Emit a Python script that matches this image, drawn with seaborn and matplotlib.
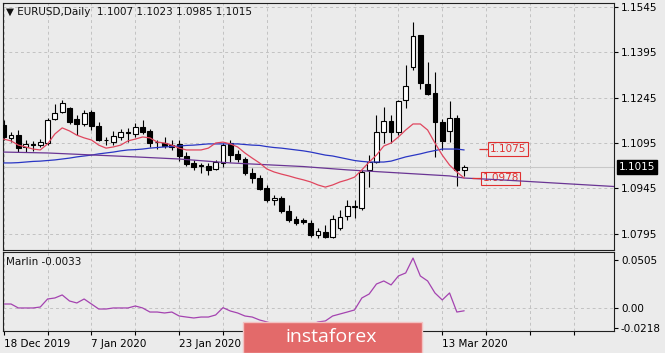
import numpy as np
import pandas as pd
import matplotlib
matplotlib.use('Agg')
import matplotlib.pyplot as plt
import matplotlib.transforms as mtrans
from matplotlib.patches import Rectangle
import seaborn as sns

# ---- data (bar index 0 = 18 Dec 2019) ----
opens = [1.1155, 1.1112, 1.1121, 1.1082, 1.1092, 1.1088, 1.1095, 1.1174, 1.1198, 1.1211,
         1.1174, 1.1158, 1.1198, 1.1151, 1.1106, 1.1098, 1.1115, 1.1131, 1.1125, 1.1148,
         1.1135, 1.1098, 1.1095, 1.1082, 1.1092, 1.1052, 1.1029, 1.1022, 1.1019, 1.1009,
         1.1029, 1.1095, 1.1059, 1.1042, 1.0996, 1.0979, 1.0946, 1.0906, 1.0913, 1.0870,
         1.0843, 1.0840, 1.0830, 1.0790, 1.0800, 1.0784, 1.0814, 1.0853, 1.0883, 1.0880,
         1.1006, 1.1032, 1.1131, 1.1168, 1.1131, 1.1237, 1.1347, 1.1453, 1.1290, 1.1261,
         1.1165, 1.1135, 1.1178, 1.1007]
highs = [1.1171, 1.1131, 1.1138, 1.1105, 1.1102, 1.1108, 1.1178, 1.1224, 1.1237, 1.1214,
         1.1188, 1.1204, 1.1204, 1.1165, 1.1115, 1.1135, 1.1141, 1.1145, 1.1161, 1.1171,
         1.1141, 1.1105, 1.1115, 1.1105, 1.1105, 1.1065, 1.1039, 1.1029, 1.1029, 1.1039,
         1.1095, 1.1105, 1.1072, 1.1049, 1.1012, 1.0989, 1.0956, 1.0923, 1.0919, 1.0890,
         1.0853, 1.0847, 1.0840, 1.0814, 1.0823, 1.0857, 1.0873, 1.0906, 1.0906, 1.1006,
         1.1055, 1.1188, 1.1214, 1.1188, 1.1237, 1.1353, 1.1496, 1.1453, 1.1363, 1.1330,
         1.1174, 1.1234, 1.1188, 1.1023]
lows = [1.1105, 1.1098, 1.1065, 1.1065, 1.1069, 1.1082, 1.1088, 1.1171, 1.1194, 1.1158,
        1.1121, 1.1151, 1.1138, 1.1102, 1.1088, 1.1088, 1.1105, 1.1098, 1.1115, 1.1125,
        1.1082, 1.1075, 1.1078, 1.1072, 1.1035, 1.1019, 1.1006, 1.0996, 1.0989, 1.1006,
        1.1016, 1.1032, 1.1032, 1.0989, 1.0963, 1.0939, 1.0900, 1.0890, 1.0863, 1.0833,
        1.0823, 1.0827, 1.0784, 1.0780, 1.0780, 1.0780, 1.0807, 1.0840, 1.0847, 1.0873,
        1.0949, 1.1030, 1.1095, 1.1095, 1.1121, 1.1211, 1.1337, 1.1274, 1.1254, 1.1049,
        1.1072, 1.1098, 1.0953, 1.0985]
closes = [1.1115, 1.1121, 1.1078, 1.1092, 1.1088, 1.1098, 1.1171, 1.1194, 1.1227, 1.1165,
          1.1158, 1.1194, 1.1151, 1.1105, 1.1104, 1.1118, 1.1131, 1.1128, 1.1148, 1.1131,
          1.1095, 1.1097, 1.1085, 1.1088, 1.1052, 1.1025, 1.1016, 1.1020, 1.1006, 1.1032,
          1.1088, 1.1055, 1.1042, 1.0996, 1.0979, 1.0943, 1.0906, 1.0913, 1.0870, 1.0840,
          1.0830, 1.0833, 1.0790, 1.0804, 1.0784, 1.0843, 1.0850, 1.0886, 1.0885, 1.0999,
          1.1032, 1.1131, 1.1168, 1.1131, 1.1234, 1.1284, 1.1449, 1.1294, 1.1257, 1.1165,
          1.1102, 1.1178, 1.1006, 1.1015]

ma_red = [1.1108, 1.1102, 1.1088, 1.1082, 1.1075, 1.1072, 1.1092, 1.1125, 1.1145, 1.1135,
          1.1121, 1.1112, 1.1105, 1.1088, 1.1078, 1.1082, 1.1088, 1.1102, 1.1108, 1.1115,
          1.1112, 1.1098, 1.1095, 1.1088, 1.1078, 1.1072, 1.1072, 1.1072, 1.1078, 1.1095,
          1.1098, 1.1092, 1.1082, 1.1062, 1.1045, 1.1029, 1.1009, 1.0999, 1.0992, 1.0986,
          1.0979, 1.0973, 1.0966, 1.0956, 1.0949, 1.0956, 1.0966, 1.0973, 1.0982, 1.1006,
          1.1032, 1.1055, 1.1085, 1.1095, 1.1115, 1.1138, 1.1158, 1.1158, 1.1138, 1.1095,
          1.1055, 1.1022, 1.0999, 1.0979]
ma_blue = [1.1029, 1.1029, 1.1030, 1.1032, 1.1034, 1.1035, 1.1037, 1.1039, 1.1042, 1.1045,
           1.1049, 1.1052, 1.1055, 1.1059, 1.1062, 1.1065, 1.1069, 1.1072, 1.1073, 1.1075,
           1.1078, 1.1080, 1.1082, 1.1083, 1.1085, 1.1087, 1.1088, 1.1090, 1.1092, 1.1092,
           1.1092, 1.1092, 1.1092, 1.1090, 1.1088, 1.1087, 1.1083, 1.1080, 1.1078, 1.1075,
           1.1072, 1.1069, 1.1065, 1.1060, 1.1055, 1.1052, 1.1047, 1.1042, 1.1037, 1.1034,
           1.1032, 1.1032, 1.1032, 1.1035, 1.1042, 1.1049, 1.1054, 1.1059, 1.1065, 1.1070,
           1.1075, 1.1075, 1.1075, 1.1072]
purple_idx = [0, 6, 18, 24, 31, 41, 47, 54, 61, 63, 68, 75, 83.5]
purple_val = [1.1065, 1.1062, 1.1049, 1.1042, 1.1029, 1.1017, 1.1006, 1.0996, 1.0986,
              1.0979, 1.0973, 1.0963, 1.0951]

marlin = [0.0039, 0.0039, -0.0003, -0.0003, -0.0003, 0.0007, 0.0092, 0.0103, 0.0135, 0.0071,
          0.0050, 0.0092, 0.0039, -0.0014, -0.0014, -0.0003, -0.0003, -0.0003, 0.0018, -0.0003,
          -0.0046, -0.0046, -0.0056, -0.0046, -0.0088, -0.0099, -0.0109, -0.0099, -0.0099, -0.0077,
          0.0000, -0.0035, -0.0056, -0.0088, -0.0099, -0.0130, -0.0151, -0.0173, -0.0183, -0.0204,
          -0.0204, -0.0194, -0.0183, -0.0151, -0.0141, -0.0088, -0.0067, -0.0046, -0.0024, 0.0103,
          0.0145, 0.0251, 0.0283, 0.0241, 0.0336, 0.0368, 0.0526, 0.0336, 0.0283, 0.0156,
          0.0082, 0.0156, -0.0046, -0.0033]

price_ticks = [1.1545, 1.1395, 1.1245, 1.1095, 1.0945, 1.0795]
marlin_ticks = [0.0505, 0.0, -0.0218]
marlin_tick_labels = ['0.0505', '0.00', '-0.0218']
# labels at bars 36 and 48 sit under the watermark in the reference, so they are not shown
date_idx = [0, 12, 24, 60]
date_labels = ['18 Dec 2019', '7 Jan 2020', '23 Jan 2020', '13 Mar 2020']
last_price = 1.1015
level_labels = [1.1075, 1.0978]

bars = pd.DataFrame({'open': opens, 'high': highs, 'low': lows, 'close': closes})
bars['i'] = np.arange(len(bars))

bg = '#ebebeb'
sns.set_style('ticks')
plt.rcParams['font.family'] = ['DejaVu Sans']

fig = plt.figure(figsize=(6.65, 3.53), dpi=100)
fig.patch.set_facecolor(bg)
ax = fig.add_axes([3 / 665, 103 / 353, 611 / 665, 247 / 353])
ax2 = fig.add_axes([3 / 665, 22 / 353, 611 / 665, 79 / 353])

grid_kw = dict(color='#c2c2c2', linestyle=(0, (3, 3)), linewidth=0.7)
for a in (ax, ax2):
    a.set_facecolor(bg)
    a.set_axisbelow(True)
    a.set_xlim(-0.1, 83.5)
    a.set_xticks(range(0, 84, 6))
    a.grid(True, axis='x', **grid_kw)
    for s in a.spines.values():
        s.set_color('#202020')
        s.set_linewidth(0.8)

# ---- candles ----
up = bars['close'] >= bars['open']
body_lo = bars[['open', 'close']].min(axis=1)
body_h = (bars['close'] - bars['open']).abs().clip(lower=0.00012)
ax.vlines(bars['i'], bars['low'], bars['high'], color='black', linewidth=0.8, zorder=3)
ax.bar(bars['i'][up], body_h[up], bottom=body_lo[up], width=0.66,
       facecolor='white', edgecolor='black', linewidth=0.8, zorder=4)
ax.bar(bars['i'][~up], body_h[~up], bottom=body_lo[~up], width=0.66,
       facecolor='black', edgecolor='black', linewidth=0.8, zorder=4)

ax.axhline(last_price, color='#c8c8c8', linewidth=0.8, zorder=1)

sns.lineplot(x=bars['i'], y=ma_blue, ax=ax, color='#2a36c4', linewidth=0.9, zorder=5)
sns.lineplot(x=purple_idx, y=purple_val, ax=ax, color='#6a3594', linewidth=0.9, zorder=5)
sns.lineplot(x=bars['i'], y=ma_red, ax=ax, color='#e0465e', linewidth=0.9, zorder=6)

ax.set_ylim(1.07407, 1.15586)
ax.yaxis.tick_right()
ax.set_yticks(price_ticks)
ax.set_yticklabels([f'{t:.4f}' for t in price_ticks])
ax.grid(True, axis='y', **grid_kw)
ax.tick_params(axis='y', length=3, width=0.8, pad=2, labelsize=7.5, colors='black')
ax.tick_params(axis='x', length=0, labelbottom=False)
ax.set_xlabel('')
ax.set_ylabel('')

# level labels
red = '#e03030'
ax.hlines(level_labels[0], 65.0, 66.3, color=red, linewidth=0.9, zorder=7)
ax.text(66.5, level_labels[0], f'{level_labels[0]:.4f}', color=red, fontsize=7.5,
        va='center', ha='left', zorder=7,
        bbox=dict(boxstyle='square,pad=0.15', fc='none', ec=red, lw=0.8))
ax.hlines(level_labels[1], 64.1, 65.3, color=red, linewidth=0.9, zorder=7)
ax.text(65.5, level_labels[1], f'{level_labels[1]:.4f}', color=red, fontsize=7.5,
        va='center', ha='left', zorder=4,
        bbox=dict(boxstyle='square,pad=0.15', fc='none', ec=red, lw=0.8))

tr = mtrans.blended_transform_factory(ax.transAxes, ax.transData)
ax.text(1 + 5 / 611, last_price, f'{last_price:.4f}', transform=tr, color='white',
        fontsize=7.5, va='center', ha='left', clip_on=False, zorder=8,
        bbox=dict(boxstyle='square,pad=0.18', fc='black', ec='black'))

# ---- Marlin panel ----
sns.lineplot(x=bars['i'], y=marlin, ax=ax2, color='#a443b0', linewidth=0.9)
ax2.set_ylim(-0.0247, 0.0590)
ax2.axhline(0.0, zorder=0, **grid_kw)
ax2.yaxis.tick_right()
ax2.set_yticks(marlin_ticks)
ax2.set_yticklabels(marlin_tick_labels)
ax2.tick_params(axis='y', length=3, width=0.8, pad=2, labelsize=7.5, colors='black')
ax2.set_xticklabels([date_labels[date_idx.index(t)] if t in date_idx else ''
                     for t in range(0, 84, 6)])
ax2.tick_params(axis='x', length=3, width=0.8, pad=3, labelsize=7.5, colors='black')
for lab in ax2.get_xticklabels():
    lab.set_ha('left')
ax2.set_xlabel('')
ax2.set_ylabel('')

fig.text(6 / 665, 1 - 12 / 353, '\u25bc EURUSD,Daily  1.1007 1.1023 1.0985 1.1015',
         fontsize=7.5, va='center', ha='left', color='#111111')
fig.text(6 / 665, 1 - 262 / 353, 'Marlin -0.0033', fontsize=7.5, va='center',
         ha='left', color='#111111')

# watermark
fig.add_artist(Rectangle((243 / 665, 0), 179 / 665, 31 / 353, transform=fig.transFigure,
                         facecolor='#e36a6a', edgecolor='#f3c2c2', linewidth=1, zorder=10))
fig.text(331 / 665, 1 - 337 / 353, 'instaforex', color='white', fontsize=14,
         family='Open Sans', ha='center', va='center', zorder=11)

fig.savefig('out.png', dpi=100, facecolor=bg)
